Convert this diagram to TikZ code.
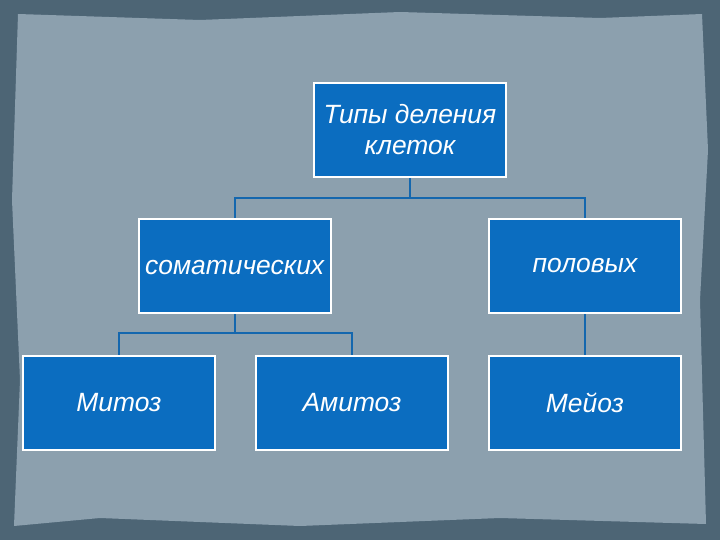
\documentclass[tikz,border=0pt]{standalone}
\usepackage{fontspec}
\setmainfont{Liberation Sans}
\begin{document}
\begin{tikzpicture}[x=1bp,y=-1bp,
  box/.style={draw=white,line width=2.5bp,fill=boxblue,minimum width=192bp,minimum height=94bp,text=white,font=\fontsize{26.5}{31}\selectfont\itshape,align=center,inner sep=0pt},
  link/.style={draw=linkblue,line width=2.5bp}]
\definecolor{boxblue}{HTML}{0B6DC0}
\definecolor{linkblue}{HTML}{1467AE}
\definecolor{outerbg}{HTML}{4D6575}
\definecolor{innerbg}{HTML}{8CA0AE}
\useasboundingbox (0,0) rectangle (720,540);
\fill[outerbg] (0,0) rectangle (720,540);
\fill[innerbg] (18,14) -- (200,20) -- (400,12) -- (600,18) -- (702,14) -- (708,150) -- (700,300) -- (706,524) -- (500,518) -- (300,526) -- (100,518) -- (14,526) -- (20,380) -- (12,200) -- cycle;
\node[box] (top) at (410,130) {Типы деления\\клеток};
\node[box] (som) at (235,266) {};
\node[text=white,font=\fontsize{26.5}{31}\selectfont\itshape,anchor=west,inner sep=0pt] (somt) at (145,268) {соматических};
\node[box] (pol) at (585,266) {половых};
\node[box] (mit) at (119,403) {Митоз};
\node[box] (amit) at (352,403) {Амитоз};
\node[box] (mei) at (585,403) {Мейоз};
\coordinate (j1) at (410,198);
\coordinate (j2) at (235,333);
\draw[link] (top.south) -- (j1);
\draw[link] (som.north) |- (j1) -| (pol.north);
\draw[link] (som.south) -- (j2);
\draw[link] (mit.north) |- (j2) -| (amit.north);
\draw[link] (pol.south) -- (mei.north);
\end{tikzpicture}
\end{document}
